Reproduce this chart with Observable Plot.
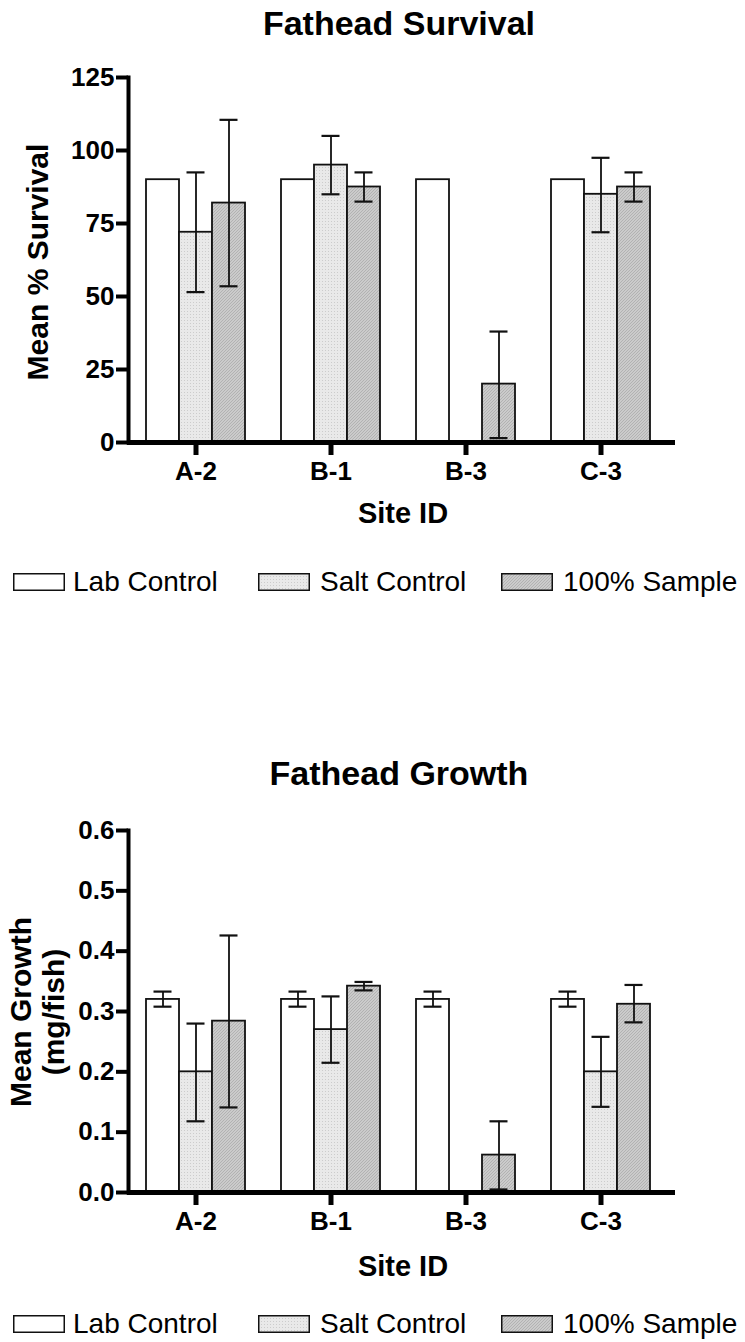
<!DOCTYPE html>
<html><head><meta charset="utf-8">
<script src="https://cdn.jsdelivr.net/npm/d3@7"></script>
<script src="https://cdn.jsdelivr.net/npm/@observablehq/plot@0.6"></script>
<style>
body{margin:0;background:#fff;font-family:"Liberation Sans",Arial,Helvetica,sans-serif;color:#000}
#wrap{position:relative;width:745px;height:1342px;overflow:hidden}
.abs{position:absolute;white-space:nowrap;transform:translate(-50%,-50%)}
.title{font-weight:bold;font-size:34px;line-height:34px}
.ylab{font-weight:bold;font-size:30px;line-height:33px;text-align:center;transform:translate(-50%,-50%) rotate(-90deg)}
.xlab{font-weight:bold;font-size:29px;line-height:29px}
.leg{position:absolute;font-size:28px;line-height:28px;white-space:nowrap}
.chart{position:absolute;left:0}
</style></head><body>
<svg width="0" height="0" style="position:absolute">
<defs>
<pattern id="pSalt" patternUnits="userSpaceOnUse" width="3" height="3"><rect width="3" height="3" fill="#e9e9e9"/><rect width="1" height="1" fill="#cccccc"/></pattern>
<pattern id="pSample" patternUnits="userSpaceOnUse" width="3" height="3"><rect width="3" height="3" fill="#cbcbcb"/><path d="M-1,1 l2,-2 M0,3 l3,-3 M2,4 l2,-2" stroke="#acacac" stroke-width="0.8"/></pattern>
</defs></svg>
<div id="wrap"></div>
<script>
// ---- data ----
const sites = ["A-2", "B-1", "B-3", "C-3"];
const groups = ["Lab Control", "Salt Control", "100% Sample"];

// Survival (%)
const labSurv = [90, 90, 90, 90];
const saltSurv = [72, 95, 0, 85];
const saltSurvLo = [51.5, 85, null, 72];
const saltSurvHi = [92.5, 105, null, 97.5];
const sampleSurv = [82, 87.5, 20, 87.5];
const sampleSurvLo = [53.5, 82.5, 1.5, 82.5];
const sampleSurvHi = [110.5, 92.5, 38, 92.5];
const survTicks = [0, 25, 50, 75, 100, 125];

// Growth (mg/fish)
const labGrowth = [0.32, 0.32, 0.32, 0.32];
const labGrowthLo = [0.308, 0.308, 0.308, 0.308];
const labGrowthHi = [0.333, 0.333, 0.333, 0.333];
const saltGrowth = [0.20, 0.27, 0, 0.20];
const saltGrowthLo = [0.118, 0.215, null, 0.142];
const saltGrowthHi = [0.280, 0.325, null, 0.258];
const sampleGrowth = [0.284, 0.342, 0.062, 0.312];
const sampleGrowthLo = [0.141, 0.335, 0.005, 0.282];
const sampleGrowthHi = [0.426, 0.349, 0.118, 0.344];
const growthTicks = [0, 0.1, 0.2, 0.3, 0.4, 0.5, 0.6];

const FILLS = ["#ffffff", "url(#pSalt)", "url(#pSample)"];
const FONT = '"Liberation Sans", Arial, Helvetica, sans-serif';

function buildRows(series) {
  const rows = [];
  series.forEach(([vals, lo, hi], gi) => {
    sites.forEach((s, i) => {
      rows.push({site: s, group: groups[gi], value: vals[i],
        lo: lo ? lo[i] : null, hi: hi ? hi[i] : null});
    });
  });
  return rows;
}

const wrap = document.getElementById("wrap");
function addDiv(cls, html, x, y) {
  const d = document.createElement("div");
  d.className = cls;
  d.innerHTML = html;
  d.style.left = x + "px";
  d.style.top = y + "px";
  wrap.appendChild(d);
  return d;
}

function chart({top, mt, yDomain, ticks, fmt, rows}) {
  const err = rows.filter(d => d.lo != null && d.hi != null);
  const last = [{site: sites[sites.length - 1], v: 0}];
  const p = Plot.plot({
    width: 745, height: 442,
    marginTop: mt, marginBottom: 50, marginLeft: 127, marginRight: 76,
    style: {fontFamily: FONT, color: "#000", background: "transparent", overflow: "visible"},
    fx: {domain: sites, paddingInner: 0, paddingOuter: 0, label: null},
    x: {domain: groups, paddingInner: 0, paddingOuter: 0.522, axis: null},
    y: {domain: yDomain, label: null},
    color: {type: "ordinal", domain: groups, range: FILLS},
    marks: [
      Plot.barY(rows, {fx: "site", x: "group", y: "value", fill: "group", stroke: "#111", strokeWidth: 1.8}),
      Plot.ruleX(err, {fx: "site", x: "group", y1: "lo", y2: "hi", stroke: "#111", strokeWidth: 1.8}),
      Plot.tickY(err, {fx: "site", x: "group", y: "hi", stroke: "#111", strokeWidth: 2.2, insetLeft: 7.5, insetRight: 7.5}),
      Plot.tickY(err, {fx: "site", x: "group", y: "lo", stroke: "#111", strokeWidth: 2.2, insetLeft: 7.5, insetRight: 7.5}),
      Plot.ruleY([0], {stroke: "#000", strokeWidth: 5, insetLeft: -1, insetRight: -1}),
      Plot.ruleY(last, {fx: "site", y: "v", stroke: "#000", strokeWidth: 5, insetRight: -7}),
      Plot.frame({anchor: "left", facetAnchor: "left", stroke: "#000", strokeWidth: 4}),
      Plot.axisY({ticks, tickFormat: fmt, tickSize: 12, tickPadding: 2, stroke: "#000", strokeWidth: 4,
        fontSize: 26, fontWeight: "bold", label: null}),
      Plot.axisFx({anchor: "bottom", tickSize: 13, tickPadding: 6, stroke: "#000", strokeWidth: 5,
        fontSize: 26, fontWeight: "bold", label: null})
    ]
  });
  p.classList.add("chart");
  p.style.top = top + "px";
  wrap.appendChild(p);
}

function legend(cy) {
  const boxX = [13, 258, 501], textX = [73, 320, 563];
  groups.forEach((g, i) => {
    const s = document.createElement("div");
    s.style.cssText = `position:absolute;left:${boxX[i]}px;top:${cy - 9}px;width:52px;height:18px`;
    s.innerHTML = `<svg width="52" height="18"><rect x="0.75" y="0.75" width="50.5" height="16.5" fill="${FILLS[i]}" stroke="#111" stroke-width="1.5"/></svg>`;
    wrap.appendChild(s);
    const t = document.createElement("div");
    t.className = "leg";
    t.textContent = g;
    t.style.left = textX[i] + "px";
    t.style.top = (cy - 14) + "px";
    wrap.appendChild(t);
  });
}

// ---- Chart 1: Survival ----
addDiv("abs title", "Fathead Survival", 399, 22.5);
chart({top: 50, mt: 27, yDomain: [0, 125], ticks: survTicks, fmt: d3.format("d"),
  rows: buildRows([[labSurv, null, null], [saltSurv, saltSurvLo, saltSurvHi], [sampleSurv, sampleSurvLo, sampleSurvHi]])});
addDiv("abs ylab", "Mean % Survival", 37, 262);
addDiv("abs xlab", "Site ID", 403, 513);
legend(582);

// ---- Chart 2: Growth ----
addDiv("abs title", "Fathead Growth", 399, 773);
chart({top: 800, mt: 30, yDomain: [0, 0.6], ticks: growthTicks, fmt: d3.format(".1f"),
  rows: buildRows([[labGrowth, labGrowthLo, labGrowthHi], [saltGrowth, saltGrowthLo, saltGrowthHi], [sampleGrowth, sampleGrowthLo, sampleGrowthHi]])});
addDiv("abs ylab", "Mean Growth<br>(mg/fish)", 36.5, 1012);
addDiv("abs xlab", "Site ID", 403, 1266);
legend(1324);
</script>
</body></html>
